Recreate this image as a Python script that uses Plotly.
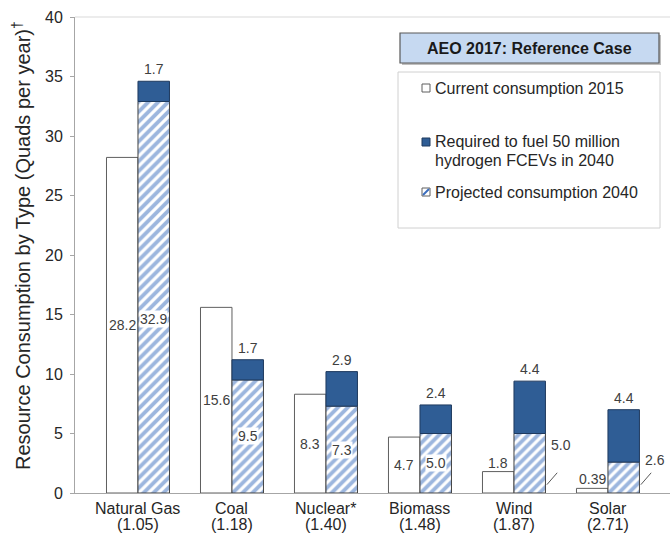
import plotly.graph_objects as go

# ---------------- data ----------------
categories = ["Natural Gas", "Coal", "Nuclear*", "Biomass", "Wind", "Solar"]
factors = ["(1.05)", "(1.18)", "(1.40)", "(1.48)", "(1.87)", "(2.71)"]
current_2015 = [28.2, 15.6, 8.3, 4.7, 1.8, 0.39]
projected_2040 = [32.9, 9.5, 7.3, 5.0, 5.0, 2.6]
required_fcev = [1.7, 1.7, 2.9, 2.4, 4.4, 4.4]
current_labels = ["28.2", "15.6", "8.3", "4.7", "1.8", "0.39"]
projected_labels = ["32.9", "9.5", "7.3", "5.0", "5.0", "2.6"]
required_labels = ["1.7", "1.7", "2.9", "2.4", "4.4", "4.4"]
y_ticks = [0, 5, 10, 15, 20, 25, 30, 35, 40]
y_title = "Resource Consumption by Type (Quads per year)<sup>†</sup>"
legend_title = "AEO 2017: Reference Case"
legend_lines = [["Current consumption 2015"],
                ["Required to fuel 50 million", "hydrogen FCEVs in 2040"],
                ["Projected consumption 2040"]]

# ---------------- style ----------------
FONT = "Liberation Sans, Arial, sans-serif"
TXT = "#262626"
DARK = "#2f5d95"
DARK_LINE = "#1f3a5f"
HATCH = "#3a6dbd"
AXIS = "#a6a6a6"
W = 0.335

L, R, T, B = 75, 670, 17, 493


def px(xp):
    return (xp - L) / (R - L)


def py(yp):
    return (B - yp) / (B - T)


xs = list(range(len(categories)))

fig = go.Figure()
fig.add_trace(go.Bar(
    x=xs, y=current_2015, width=W, offset=-W, showlegend=False,
    marker=dict(color="white", line=dict(color="#5f5f5f", width=1))))
fig.add_trace(go.Bar(
    x=xs, y=projected_2040, width=W, offset=0, showlegend=False,
    marker=dict(color="white", line=dict(color="#404040", width=1),
                pattern=dict(shape="/", fgcolor=HATCH, bgcolor="white",
                             size=7, solidity=0.55))))
fig.add_trace(go.Bar(
    x=xs, y=required_fcev, base=projected_2040, width=W, offset=0,
    showlegend=False,
    marker=dict(color=DARK, line=dict(color=DARK_LINE, width=1))))

ann = []
shapes = []
lab_font = dict(family=FONT, size=14, color="#404040")

for i in xs:
    c = current_2015[i]
    p = projected_2040[i]
    r = required_fcev[i]
    inside = c >= 3
    # current labels
    if inside:
        ann.append(dict(x=i - W / 2, y=c / 2, xref="x", yref="y", text=current_labels[i],
                        showarrow=False, font=lab_font, bgcolor="white", borderpad=0,
                        xanchor="center", yanchor="middle"))
    else:
        ann.append(dict(x=i - W / 2, y=c, xref="x", yref="y", text=current_labels[i],
                        showarrow=False, font=lab_font, xanchor="center",
                        yanchor="middle", yshift=9))
    # projected labels
    if inside:
        ann.append(dict(x=i + W / 2, y=min(p, c + 1) / 2, xref="x", yref="y",
                        text=projected_labels[i], showarrow=False, font=lab_font,
                        bgcolor="white", borderpad=0, xanchor="center", yanchor="middle"))
    else:
        x0 = i + W + 0.015
        ann.append(dict(x=i + W + 0.17, y=p / 2 + 1.5, xref="x", yref="y",
                        text=projected_labels[i], showarrow=False, font=lab_font,
                        xanchor="center", yanchor="middle"))
        shapes.append(dict(type="line", xref="x", yref="y", x0=x0, y0=0.7,
                           x1=x0 + 0.11, y1=1.7, line=dict(color="#595959", width=1)))
    # required labels
    ann.append(dict(x=i + W / 2, y=p + r, xref="x", yref="y", text=required_labels[i],
                    showarrow=False, font=lab_font, xanchor="center", yanchor="middle",
                    yshift=12))
    # category labels
    ann.append(dict(x=i, y=0, xref="x", yref="paper", text=categories[i], showarrow=False,
                    font=dict(family=FONT, size=16, color=TXT), xanchor="center",
                    yanchor="middle", yshift=-15))
    ann.append(dict(x=i, y=0, xref="x", yref="paper", text=factors[i], showarrow=False,
                    font=dict(family=FONT, size=16, color=TXT), xanchor="center",
                    yanchor="middle", yshift=-31))

# y-axis title
ann.append(dict(x=px(22), y=py(246), xref="paper", yref="paper", text=y_title,
                textangle=-90, showarrow=False, xanchor="center", yanchor="middle",
                font=dict(family=FONT, size=20, color=TXT)))

# top border line of plot area
shapes.append(dict(type="line", xref="paper", yref="paper", x0=0, x1=1, y0=1, y1=1,
                   line=dict(color="#d9d9d9", width=1)))

# legend box
shapes.append(dict(type="rect", xref="paper", yref="paper", x0=px(398), x1=px(660),
                   y0=py(228), y1=py(72), line=dict(color="#d0d0d0", width=1),
                   fillcolor="white"))
# title box with shadow
shapes.append(dict(type="rect", xref="paper", yref="paper", x0=px(402), x1=px(661),
                   y0=py(65), y1=py(35), line=dict(width=0), fillcolor="#bfbfbf"))
shapes.append(dict(type="rect", xref="paper", yref="paper", x0=px(400), x1=px(659),
                   y0=py(63), y1=py(33), line=dict(color="#595959", width=1.2),
                   fillcolor="#c6d9f1"))
ann.append(dict(x=px(529.5), y=py(48), xref="paper", yref="paper",
                text="<b>" + legend_title + "</b>", showarrow=False,
                xanchor="center", yanchor="middle",
                font=dict(family=FONT, size=16, color="#1a1a1a")))

# legend entries
entry_y = [88, 142, 192]
for k, lines in enumerate(legend_lines):
    for j, t in enumerate(lines):
        ann.append(dict(x=px(433), y=py(entry_y[k] + 18 * j), xref="paper", yref="paper",
                        text=t, showarrow=False, xanchor="left", yanchor="middle",
                        font=dict(family=FONT, size=16, color=TXT)))
# legend markers
m = [(422, 84, 430, 92), (422, 138, 430, 146), (422, 188, 430, 196)]
shapes.append(dict(type="rect", xref="paper", yref="paper", x0=px(m[0][0]), x1=px(m[0][2]),
                   y0=py(m[0][3]), y1=py(m[0][1]), line=dict(color="#5f5f5f", width=1),
                   fillcolor="white"))
shapes.append(dict(type="rect", xref="paper", yref="paper", x0=px(m[1][0]), x1=px(m[1][2]),
                   y0=py(m[1][3]), y1=py(m[1][1]), line=dict(color=DARK_LINE, width=1),
                   fillcolor=DARK))
shapes.append(dict(type="rect", xref="paper", yref="paper", x0=px(m[2][0]), x1=px(m[2][2]),
                   y0=py(m[2][3]), y1=py(m[2][1]), line=dict(color="#5f5f5f", width=1),
                   fillcolor="white"))
shapes.append(dict(type="line", xref="paper", yref="paper", x0=px(423), x1=px(429),
                   y0=py(195), y1=py(189), line=dict(color=HATCH, width=2)))

fig.update_layout(
    width=670, height=535,
    margin=dict(l=L, r=670 - R, t=T, b=535 - B),
    paper_bgcolor="white", plot_bgcolor="white",
    barmode="overlay",
    showlegend=False,
    font=dict(family=FONT, color=TXT),
    xaxis=dict(range=[-0.67, 5.66], showticklabels=False, ticks="", showgrid=False,
               zeroline=False, showline=True, linecolor=AXIS, linewidth=1),
    yaxis=dict(range=[0, 40], tickvals=y_ticks, ticks="outside", ticklen=4,
               tickcolor=AXIS, showline=True, linecolor=AXIS, linewidth=1,
               showgrid=False, zeroline=False, ticklabelstandoff=4,
               tickfont=dict(family=FONT, size=16, color=TXT)),
    annotations=ann,
    shapes=shapes,
)

fig.write_html("out.html", config={"displayModeBar": False},
               post_script="document.body.style.margin='0';document.body.style.overflow='hidden';")
